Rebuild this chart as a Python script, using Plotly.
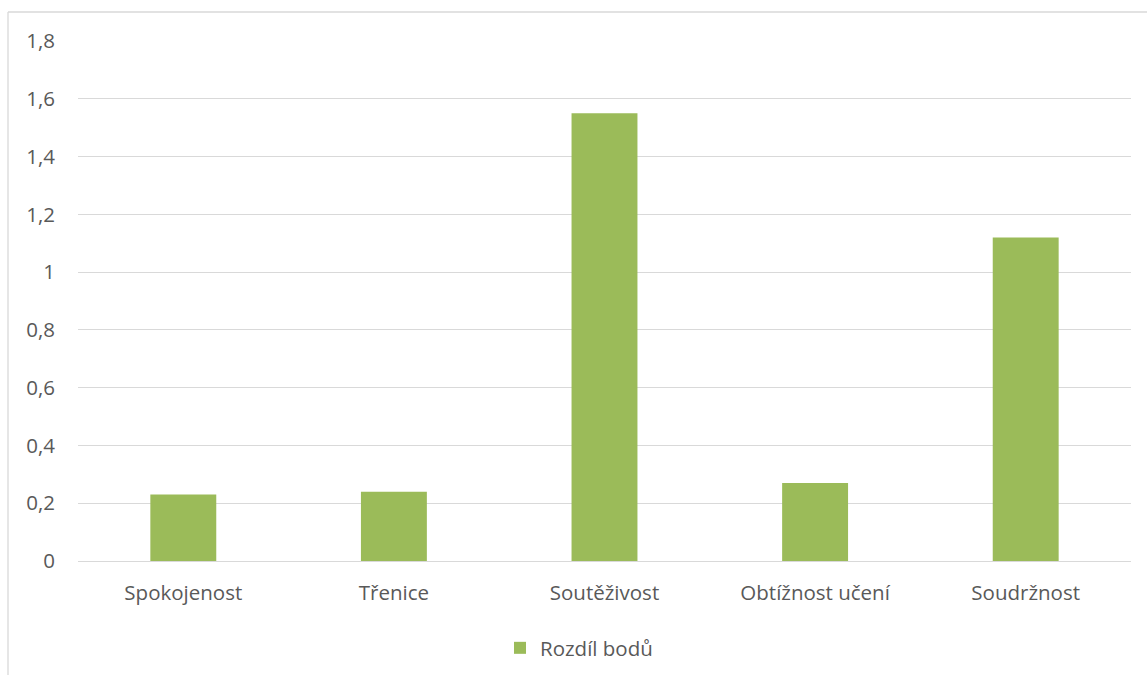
import plotly.graph_objects as go

categories = ["Spokojenost", "Třenice", "Soutěživost", "Obtížnost učení", "Soudržnost"]
values = [0.23, 0.24, 1.55, 0.27, 1.12]
series_name = "Rozdíl bodů"

W, H = 1147, 675
L, R, T, B = 78, 1131, 41, 561
pw, ph = R - L, B - T

def px(x):
    return (x - L) / pw

def py(y):
    return (B - y) / ph

font = dict(family="Open Sans, sans-serif", size=20.5, color="#595959")

fig = go.Figure(go.Bar(
    x=categories, y=values, name=series_name,
    marker=dict(color="#9BBB59", line=dict(width=0)),
    width=0.313, showlegend=True,
))

fig.update_layout(
    width=W, height=H,
    margin=dict(l=L, r=W - R, t=T, b=H - B, pad=0, autoexpand=False),
    paper_bgcolor="white", plot_bgcolor="white",
    separators=", ",
    font=font,
    showlegend=True,
    legend=dict(orientation="h", xref="container", yref="container",
                x=500 / W, xanchor="left", y=1 - 648 / H, yanchor="middle",
                font=font, itemwidth=30),
    xaxis=dict(showgrid=False, showline=False, ticks="", tickfont=font,
               ticklabelstandoff=17, automargin=False),
    yaxis=dict(range=[0, 1.8], dtick=0.2, showgrid=True, gridcolor="#D9D9D9", gridwidth=1,
               zeroline=True, zerolinecolor="#D9D9D9", zerolinewidth=1,
               showline=False, ticks="", tickfont=font, ticklabelstandoff=22, automargin=False),
    bargap=0.687,
    shapes=[
        dict(type="line", xref="paper", yref="paper", x0=px(8), x1=px(8), y0=py(12), y1=py(680),
             line=dict(color="#D9D9D9", width=1.3)),
        dict(type="line", xref="paper", yref="paper", x0=px(8), x1=px(1150), y0=py(12), y1=py(12),
             line=dict(color="#D9D9D9", width=1.3)),
    ],
)

fig.write_html("out.html")
